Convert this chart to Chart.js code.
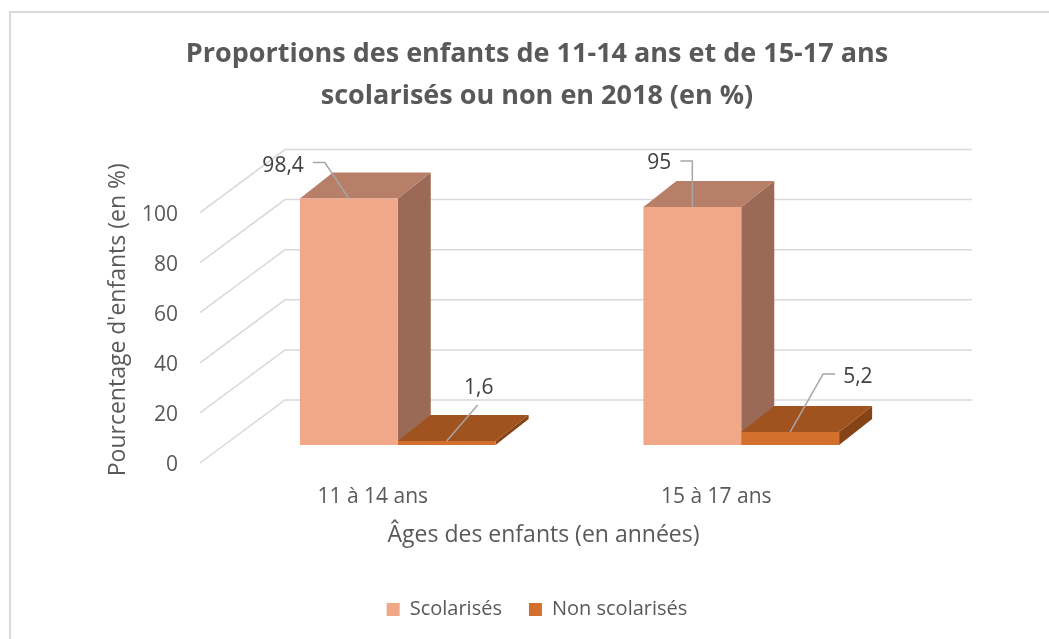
<!DOCTYPE html>
<html>
<head>
<meta charset="utf-8">
<script src="https://cdn.jsdelivr.net/npm/chart.js@4/dist/chart.umd.min.js"></script>
<style>
  body { margin: 0; background: #fff; }
  #wrap { width: 1049px; height: 639px; }
</style>
</head>
<body>
<div id="wrap"><canvas id="myChart"></canvas></div>
<script>
const categories = ['11 à 14 ans', '15 à 17 ans'];
const scolarises = [98.4, 95];
const nonScolarises = [1.6, 5.2];
const yTickValues = [0, 20, 40, 60, 80, 100];

const seriesNames = ['Scolarisés', 'Non scolarisés'];
const titleLines = ['Proportions des enfants de 11-14 ans et de 15-17 ans', 'scolarisés ou non en 2018 (en %)'];
const yTitle = "Pourcentage d'enfants (en %)";
const xTitle = 'Âges des enfants (en années)';

// couleurs des faces (avant, dessus, côté)
const faceColors = [
    { front: '#F0A889', top: '#B77F68', side: '#9A6A56' },
    { front: '#D3702D', top: '#A0521F', side: '#864316' }
];

// effet 3D
const barDepth = { dx: 33, dy: -26 };
const backWall = { dx: 59, dy: -45 };
const frontEdge = { dx: -26, dy: 18 };

// position des étiquettes de données (par série, par catégorie)
const leaders = [
    [{ elbow: [-24, -36], end: [-36, -36], text: [-45, -33], align: 'right' },
     { elbow: [0, -46], end: [-12, -46], text: [-21, -44], align: 'right' }],
    [{ elbow: [31, -36], end: [31, -36], text: [32, -53], align: 'center' },
     { elbow: [33, -58], end: [45, -58], text: [53, -55], align: 'left' }]
];

const FONT = "'Open Sans', sans-serif";

function poly(ctx, pts, color) {
    ctx.beginPath();
    ctx.moveTo(pts[0][0], pts[0][1]);
    for (let i = 1; i < pts.length; i++) ctx.lineTo(pts[i][0], pts[i][1]);
    ctx.closePath();
    ctx.fillStyle = color;
    ctx.fill();
}

const threeD = {
    id: 'threeD',
    beforeDraw(chart) {
        const ctx = chart.ctx;
        ctx.save();
        ctx.fillStyle = '#fff';
        ctx.fillRect(0, 0, chart.width, chart.height);
        // cadre
        ctx.strokeStyle = '#d9d9d9';
        ctx.lineWidth = 2;
        ctx.beginPath();
        ctx.moveTo(10, chart.height + 5);
        ctx.lineTo(10, 12);
        ctx.lineTo(chart.width + 5, 12);
        ctx.stroke();
        ctx.restore();
    },
    beforeDatasetsDraw(chart) {
        const ctx = chart.ctx;
        const area = chart.chartArea;
        const y = chart.scales.y;
        ctx.save();
        // quadrillage du fond et du mur gauche
        ctx.strokeStyle = '#d9d9d9';
        ctx.lineWidth = 1.5;
        yTickValues.forEach(v => {
            const py = y.getPixelForValue(v);
            ctx.beginPath();
            ctx.moveTo(area.left + frontEdge.dx, py + frontEdge.dy);
            ctx.lineTo(area.left + backWall.dx, py + backWall.dy);
            ctx.lineTo(area.right + backWall.dx, py + backWall.dy);
            ctx.stroke();
        });
        // faces latérales et supérieures
        categories.forEach((c, i) => {
            chart.data.datasets.forEach((ds, d) => {
                const bar = chart.getDatasetMeta(d).data[i];
                const l = bar.x - bar.width / 2, r = bar.x + bar.width / 2;
                const t = bar.y, b = bar.base;
                const dx = barDepth.dx, dy = barDepth.dy;
                poly(ctx, [[r, t], [r + dx, t + dy], [r + dx, b + dy], [r, b]], faceColors[d].side);
                poly(ctx, [[l, t], [r, t], [r + dx, t + dy], [l + dx, t + dy]], faceColors[d].top);
            });
        });
        ctx.restore();
    },
    afterDatasetsDraw(chart) {
        const ctx = chart.ctx;
        const area = chart.chartArea;
        ctx.save();
        chart.data.datasets.forEach((ds, d) => {
            chart.getDatasetMeta(d).data.forEach((bar, i) => {
                const L = leaders[d][i];
                ctx.strokeStyle = '#a6a6a6';
                ctx.lineWidth = 1.5;
                ctx.beginPath();
                ctx.moveTo(bar.x, bar.y);
                ctx.lineTo(bar.x + L.elbow[0], bar.y + L.elbow[1]);
                ctx.lineTo(bar.x + L.end[0], bar.y + L.end[1]);
                ctx.stroke();
                ctx.fillStyle = '#404040';
                ctx.font = '21px ' + FONT;
                ctx.textAlign = L.align;
                ctx.textBaseline = 'middle';
                ctx.fillText(String(ds.data[i]).replace('.', ','), bar.x + L.text[0], bar.y + L.text[1]);
            });
        });
        // titre de l'axe horizontal, centré sur le bord avant du plancher
        ctx.fillStyle = '#595959';
        ctx.font = '23px ' + FONT;
        ctx.textAlign = 'center';
        ctx.textBaseline = 'middle';
        ctx.fillText(xTitle, (area.left + area.right) / 2 + frontEdge.dx, 535);
        ctx.restore();
    }
};

const ctx = document.getElementById('myChart').getContext('2d');
const myChart = new Chart(ctx, {
    type: 'bar',
    data: {
        labels: categories,
        datasets: [
            { label: seriesNames[0], data: scolarises, backgroundColor: faceColors[0].front, borderWidth: 0 },
            { label: seriesNames[1], data: nonScolarises, backgroundColor: faceColors[1].front, borderWidth: 0 }
        ]
    },
    options: {
        responsive: true,
        maintainAspectRatio: false,
        animation: false,
        events: [],
        layout: { padding: { left: 35, right: 10, top: 12, bottom: 9.5 } },
        datasets: { bar: { categoryPercentage: 0.5697, barPercentage: 1 } },
        plugins: {
            title: {
                display: true,
                text: titleLines,
                color: '#595959',
                font: { family: FONT, size: 27, weight: 'bold', lineHeight: 1.556 },
                padding: { top: 21, bottom: 77.5 }
            },
            legend: {
                position: 'bottom',
                labels: {
                    color: '#595959',
                    font: { family: FONT, size: 20 },
                    boxWidth: 13,
                    boxHeight: 13,
                    padding: 27
                }
            },
            tooltip: { enabled: false }
        },
        scales: {
            x: {
                grid: { display: false, drawTicks: false },
                border: { display: false },
                ticks: { color: '#595959', font: { family: FONT, size: 21 }, padding: 39.4, labelOffset: -25 },
                afterFit: s => { s.height = 127.5; }
            },
            y: {
                min: 0,
                max: 100,
                grid: { display: false, drawTicks: false },
                border: { display: false },
                afterBuildTicks: s => { s.ticks = yTickValues.map(v => ({ value: v })); },
                ticks: { color: '#595959', font: { family: FONT, size: 21 }, padding: 48, labelOffset: 20 },
                title: {
                    display: true,
                    text: yTitle,
                    color: '#595959',
                    font: { family: FONT, size: 23 },
                    padding: { top: 69.2, bottom: 0 }
                },
                afterFit: s => { s.width = 191; }
            },
            y2: {
                position: 'right',
                grid: { display: false, drawTicks: false },
                border: { display: false },
                ticks: { display: false },
                afterFit: s => { s.width = 126; }
            }
        }
    },
    plugins: [threeD]
});
</script>
</body>
</html>
